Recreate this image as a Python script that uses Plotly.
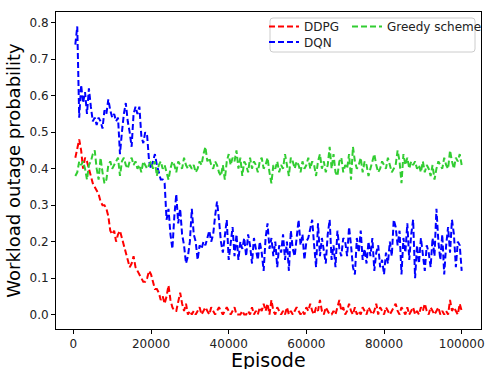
import plotly.graph_objects as go

episodes = list(range(500, 100001, 500))

ddpg = [
    0.43, 0.46, 0.48, 0.45, 0.40, 0.43, 0.42, 0.40, 0.38, 0.36, 0.35, 0.34, 0.33, 0.31, 0.30, 0.30, 0.29, 0.27, 0.23, 0.22,
    0.23, 0.20, 0.22, 0.23, 0.21, 0.19, 0.17, 0.15, 0.13, 0.14, 0.16, 0.13, 0.12, 0.11, 0.10, 0.09, 0.09, 0.10, 0.12, 0.11,
    0.09, 0.07, 0.07, 0.06, 0.04, 0.05, 0.03, 0.05, 0.08, 0.04, 0.02, 0.01, 0.01, 0.04, 0.06, 0.03, 0.01, 0.03, 0.00, 0.01,
    0.00, 0.01, 0.00, 0.01, 0.02, 0.00, 0.01, 0.02, 0.01, 0.00, 0.02, 0.01, 0.00, 0.01, 0.02, 0.01, 0.00, 0.01, 0.02, 0.01,
    0.00, 0.01, 0.02, 0.00, 0.00, 0.00, 0.01, 0.00, 0.00, 0.01, 0.00, 0.02, 0.00, 0.01, 0.00, 0.02, 0.01, 0.03, 0.01, 0.03,
    0.00, 0.04, 0.01, 0.00, 0.02, 0.01, 0.00, 0.01, 0.00, 0.02, 0.00, 0.01, 0.00, 0.01, 0.02, 0.01, 0.00, 0.01, 0.00, 0.02,
    0.01, 0.03, 0.01, 0.00, 0.02, 0.01, 0.04, 0.01, 0.00, 0.02, 0.01, 0.00, 0.00, 0.01, 0.00, 0.02, 0.04, 0.01, 0.02, 0.00,
    0.01, 0.03, 0.01, 0.00, 0.02, 0.00, 0.01, 0.00, 0.02, 0.01, 0.00, 0.02, 0.01, 0.00, 0.01, 0.03, 0.00, 0.02, 0.01, 0.00,
    0.02, 0.01, 0.00, 0.01, 0.02, 0.03, 0.01, 0.00, 0.02, 0.01, 0.00, 0.02, 0.00, 0.01, 0.02, 0.00, 0.01, 0.00, 0.02, 0.01,
    0.03, 0.01, 0.00, 0.02, 0.01, 0.00, 0.01, 0.02, 0.00, 0.01, 0.00, 0.01, 0.00, 0.04, 0.01, 0.02, 0.01, 0.00, 0.03, 0.01,
]

dqn = [
    0.74, 0.79, 0.54, 0.63, 0.58, 0.61, 0.55, 0.62, 0.57, 0.53, 0.54, 0.52, 0.54, 0.53, 0.51, 0.56, 0.55, 0.59, 0.56, 0.54,
    0.55, 0.53, 0.54, 0.44, 0.50, 0.55, 0.58, 0.53, 0.50, 0.46, 0.55, 0.57, 0.55, 0.57, 0.49, 0.47, 0.50, 0.49, 0.42, 0.40,
    0.42, 0.44, 0.41, 0.39, 0.37, 0.37, 0.36, 0.26, 0.29, 0.22, 0.18, 0.27, 0.33, 0.25, 0.29, 0.22, 0.19, 0.14, 0.16, 0.20,
    0.29, 0.22, 0.20, 0.15, 0.19, 0.18, 0.20, 0.19, 0.21, 0.23, 0.20, 0.22, 0.27, 0.31, 0.26, 0.20, 0.17, 0.22, 0.26, 0.15,
    0.20, 0.24, 0.16, 0.22, 0.15, 0.20, 0.18, 0.21, 0.16, 0.22, 0.19, 0.14, 0.21, 0.18, 0.15, 0.20, 0.17, 0.12, 0.21, 0.25,
    0.18, 0.21, 0.16, 0.20, 0.13, 0.19, 0.17, 0.22, 0.15, 0.20, 0.12, 0.23, 0.18, 0.16, 0.21, 0.26, 0.19, 0.22, 0.15, 0.20,
    0.21, 0.24, 0.26, 0.19, 0.13, 0.25, 0.16, 0.21, 0.18, 0.14, 0.22, 0.26, 0.15, 0.19, 0.13, 0.23, 0.18, 0.16, 0.21, 0.20,
    0.16, 0.24, 0.19, 0.13, 0.11, 0.21, 0.17, 0.23, 0.15, 0.18, 0.14, 0.20, 0.16, 0.21, 0.12, 0.17, 0.19, 0.13, 0.15, 0.11,
    0.17, 0.14, 0.20, 0.16, 0.26, 0.24, 0.19, 0.23, 0.11, 0.21, 0.17, 0.25, 0.15, 0.22, 0.26, 0.10, 0.19, 0.14, 0.21, 0.16,
    0.12, 0.19, 0.17, 0.13, 0.21, 0.16, 0.29, 0.20, 0.15, 0.22, 0.11, 0.19, 0.24, 0.17, 0.26, 0.22, 0.13, 0.20, 0.19, 0.12,
]

greedy = [
    0.38, 0.39, 0.42, 0.41, 0.42, 0.40, 0.37, 0.41, 0.42, 0.44, 0.45, 0.40, 0.37, 0.43, 0.39, 0.36, 0.37, 0.41, 0.42, 0.40,
    0.41, 0.42, 0.43, 0.38, 0.42, 0.43, 0.41, 0.40, 0.42, 0.43, 0.41, 0.42, 0.40, 0.41, 0.39, 0.42, 0.41, 0.40, 0.41, 0.42,
    0.40, 0.42, 0.38, 0.41, 0.42, 0.40, 0.41, 0.39, 0.37, 0.40, 0.42, 0.41, 0.39, 0.42, 0.41, 0.40, 0.43, 0.41, 0.40, 0.41,
    0.40, 0.41, 0.39, 0.40, 0.42, 0.41, 0.44, 0.46, 0.42, 0.43, 0.41, 0.40, 0.42, 0.41, 0.39, 0.38, 0.41, 0.37, 0.42, 0.44,
    0.41, 0.43, 0.42, 0.45, 0.40, 0.43, 0.38, 0.42, 0.41, 0.39, 0.43, 0.40, 0.42, 0.41, 0.39, 0.42, 0.43, 0.40, 0.41, 0.43,
    0.39, 0.36, 0.41, 0.40, 0.42, 0.39, 0.41, 0.40, 0.44, 0.41, 0.38, 0.43, 0.42, 0.40, 0.42, 0.41, 0.39, 0.42, 0.40, 0.41,
    0.43, 0.40, 0.42, 0.41, 0.38, 0.42, 0.44, 0.40, 0.42, 0.39, 0.41, 0.46, 0.40, 0.44, 0.39, 0.38, 0.42, 0.43, 0.39, 0.41,
    0.40, 0.44, 0.37, 0.46, 0.42, 0.40, 0.41, 0.43, 0.39, 0.42, 0.41, 0.38, 0.40, 0.42, 0.44, 0.41, 0.39, 0.40, 0.42, 0.41,
    0.40, 0.43, 0.41, 0.39, 0.40, 0.41, 0.45, 0.42, 0.36, 0.44, 0.41, 0.43, 0.40, 0.42, 0.41, 0.42, 0.40, 0.41, 0.39, 0.42,
    0.39, 0.41, 0.40, 0.38, 0.41, 0.37, 0.40, 0.42, 0.41, 0.40, 0.43, 0.41, 0.40, 0.45, 0.42, 0.40, 0.43, 0.42, 0.44, 0.41,
]

xtick_vals = [0, 20000, 40000, 60000, 80000, 100000]
xtick_text = ["0", "20000", "40000", "60000", "80000", "100000"]
ytick_vals = [0.0, 0.1, 0.2, 0.3, 0.4, 0.5, 0.6, 0.7, 0.8]

# plot-area geometry (pixels)
W, H = 485, 369
L, R, T, B = 56, 4, 12, 40
PW, PH = W - L - R, H - T - B


def px_x(p):
    return (p - L) / PW


def px_y(p):
    return (H - B - p) / PH


series = [
    ("DDPG", ddpg, "#ff0000", "legend", px_x(264), px_y(26.5)),
    ("DQN", dqn, "#0000ff", "legend2", px_x(264), px_y(42)),
    ("Greedy scheme", greedy, "#32cd32", "legend3", px_x(347), px_y(26.5)),
]

font_family = "DejaVu Sans"
fig = go.Figure()
legend_cfg = {}
for name, vals, color, leg, lx, ly in series:
    fig.add_trace(go.Scatter(
        x=episodes, y=vals, mode="lines", name=name, legend=leg,
        line=dict(color=color, width=2, dash="6px,3px"),
    ))
    legend_cfg[leg] = dict(
        x=lx, xanchor="left", y=ly, yanchor="middle",
        bgcolor="rgba(0,0,0,0)", borderwidth=0,
        font=dict(size=12, family=font_family, color="#222"),
        itemwidth=30,
    )

# legend frame with rounded corners (paper coordinates)
x0, x1 = px_x(270), px_x(475)
y0, y1 = px_y(52), px_y(18)
rx, ry = 3 / PW, 3 / PH
frame_path = (
    f"M {x0+rx},{y0} L {x1-rx},{y0} Q {x1},{y0} {x1},{y0+ry} "
    f"L {x1},{y1-ry} Q {x1},{y1} {x1-rx},{y1} "
    f"L {x0+rx},{y1} Q {x0},{y1} {x0},{y1-ry} "
    f"L {x0},{y0+ry} Q {x0},{y0} {x0+rx},{y0} Z"
)
fig.add_shape(
    type="path", xref="paper", yref="paper", path=frame_path,
    line=dict(color="#cccccc", width=1), fillcolor="rgba(255,255,255,0.85)",
    layer="above",
)

# x-axis title placed like the reference (partly below the plot, near the bottom edge)
fig.add_annotation(
    text="Episode", xref="paper", yref="paper", x=0.5, y=px_y(360),
    xanchor="center", yanchor="middle", showarrow=False,
    font=dict(size=19, family=font_family, color="black"),
)

fig.update_layout(
    width=W, height=H,
    margin=dict(l=L, r=R, t=T, b=B, autoexpand=False),
    paper_bgcolor="white", plot_bgcolor="white",
    font=dict(family=font_family, size=12, color="#222"),
    showlegend=True,
    **legend_cfg,
    xaxis=dict(
        range=[-4475, 104975], tickvals=xtick_vals, ticktext=xtick_text,
        showgrid=False, zeroline=False, showline=True, linecolor="black", linewidth=1,
        mirror=True, ticks="outside", ticklen=4, tickcolor="black", automargin=False,
        tickfont=dict(size=12, family=font_family),
    ),
    yaxis=dict(
        range=[-0.0395, 0.8295], tickvals=ytick_vals, tickformat=".1f",
        showgrid=False, zeroline=False, showline=True, linecolor="black", linewidth=1,
        mirror=True, ticks="outside", ticklen=4, tickcolor="black", automargin=False,
        tickfont=dict(size=12, family=font_family),
        title=dict(text="Workload outage probability", font=dict(size=18, family=font_family, color="black"), standoff=4),
    ),
)

fig.write_html(
    "out.html",
    config={"displayModeBar": False},
    post_script="document.body.style.margin='0';document.body.style.overflow='hidden';",
)
